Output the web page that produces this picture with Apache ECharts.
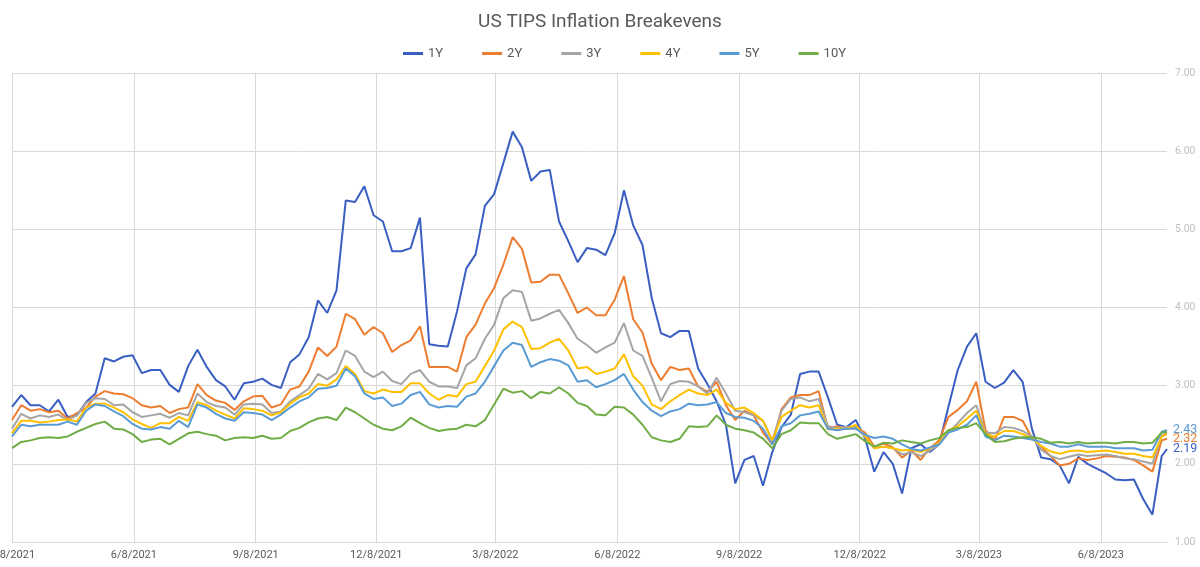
<!DOCTYPE html>
<html><head><meta charset="utf-8">
<script src="https://cdn.jsdelivr.net/npm/echarts@6/dist/echarts.min.js"></script>
<style>html,body{margin:0;padding:0;background:#fff}#c{width:1200px;height:567px}</style>
</head><body><div id="c"></div>
<script>
// weekly samples from 3/8/2021 (every 7 days to 7/24/2023) plus final point 7/28/2023
const s1Y = [
2.73,2.88,2.75,2.75,2.67,2.82,2.60,2.62,2.79,2.90,3.35,3.31,3.37,3.39,3.16,3.20,3.20,3.01,2.92,3.25,3.46,3.24,3.07,2.99,2.82,3.03,3.05,3.09,3.01,2.97,3.30,3.40,
3.62,4.09,3.93,4.22,5.37,5.35,5.55,5.18,5.10,4.72,4.72,4.76,5.15,3.53,3.51,3.50,3.95,4.50,4.68,5.30,5.45,5.85,6.25,6.05,5.62,5.74,
5.76,5.10,4.85,4.58,4.76,4.74,4.67,4.95,5.50,5.05,4.80,4.12,3.67,3.62,3.70,3.70,3.22,3.02,2.80,2.50,1.75,2.05,2.10,1.72,2.15,2.47,
2.63,3.15,3.18,3.18,2.85,2.50,2.47,2.56,2.33,1.90,2.15,2.00,1.62,2.20,2.25,2.15,2.25,2.73,3.20,3.50,3.67,3.05,2.97,3.04,3.20,3.05,2.45,2.08,2.06,1.98,1.75,2.09,2.00,1.94,1.88,1.80,1.79,1.80,1.55,1.35,2.10,
2.19];
const s2Y = [
2.56,2.75,2.68,2.70,2.66,2.68,2.58,2.65,2.72,2.86,2.93,2.90,2.89,2.84,2.75,2.72,2.74,2.65,2.70,2.72,3.02,2.88,2.81,2.78,2.69,2.80,2.86,2.87,2.72,2.76,2.95,2.99,
3.18,3.49,3.38,3.50,3.92,3.85,3.65,3.75,3.67,3.43,3.52,3.58,3.76,3.24,3.24,3.24,3.18,3.62,3.78,4.05,4.25,4.55,4.90,4.75,4.32,4.33,
4.42,4.42,4.18,3.93,4.00,3.90,3.90,4.10,4.40,3.85,3.68,3.28,3.07,3.24,3.20,3.22,2.99,2.92,3.05,2.75,2.56,2.68,2.62,2.40,2.25,2.70,
2.85,2.88,2.88,2.93,2.45,2.48,2.45,2.47,2.40,2.22,2.26,2.21,2.08,2.17,2.05,2.20,2.30,2.60,2.69,2.80,3.05,2.43,2.30,2.60,2.60,2.55,2.33,2.22,2.10,1.98,2.00,2.07,2.05,2.07,2.10,2.09,2.08,2.05,1.98,1.90,2.30,
2.32];
const s3Y = [
2.45,2.64,2.58,2.62,2.60,2.63,2.56,2.62,2.78,2.84,2.83,2.75,2.76,2.66,2.60,2.62,2.64,2.59,2.65,2.62,2.90,2.79,2.74,2.72,2.63,2.76,2.77,2.76,2.65,2.67,2.80,2.88,
2.96,3.15,3.08,3.16,3.45,3.38,3.18,3.11,3.18,3.06,3.02,3.15,3.20,3.05,2.99,2.99,2.97,3.26,3.35,3.60,3.78,4.12,4.22,4.20,3.83,3.86,
3.92,3.97,3.80,3.60,3.52,3.42,3.49,3.55,3.80,3.45,3.38,3.10,2.80,3.02,3.06,3.05,2.99,2.90,3.10,2.90,2.68,2.66,2.62,2.55,2.30,2.68,
2.83,2.85,2.80,2.83,2.48,2.46,2.47,2.47,2.35,2.20,2.22,2.20,2.12,2.15,2.10,2.17,2.25,2.40,2.52,2.65,2.75,2.40,2.39,2.47,2.46,2.42,2.35,2.18,2.10,2.06,2.09,2.12,2.10,2.11,2.12,2.10,2.07,2.06,2.03,2.00,2.36,
2.40];
const s4Y = [
2.39,2.55,2.55,2.53,2.54,2.56,2.57,2.54,2.72,2.77,2.77,2.72,2.66,2.57,2.51,2.46,2.52,2.52,2.60,2.55,2.79,2.75,2.68,2.63,2.58,2.71,2.70,2.68,2.62,2.66,2.77,2.85,
2.90,3.02,3.00,3.08,3.25,3.15,2.93,2.90,2.95,2.92,2.92,3.03,3.03,2.90,2.82,2.88,2.86,3.02,3.05,3.25,3.45,3.72,3.82,3.75,3.47,3.48,
3.55,3.60,3.45,3.22,3.24,3.15,3.18,3.22,3.40,3.12,3.00,2.76,2.70,2.80,2.88,2.95,2.90,2.88,2.95,2.78,2.70,2.72,2.65,2.55,2.30,2.60,
2.68,2.75,2.72,2.75,2.44,2.45,2.45,2.50,2.35,2.20,2.22,2.20,2.17,2.18,2.15,2.20,2.27,2.43,2.48,2.58,2.68,2.38,2.35,2.42,2.42,2.38,2.33,2.23,2.16,2.13,2.16,2.17,2.15,2.16,2.17,2.15,2.13,2.13,2.10,2.08,2.35,
2.38];
const s5Y = [
2.35,2.50,2.48,2.50,2.50,2.50,2.54,2.50,2.68,2.76,2.74,2.67,2.61,2.51,2.45,2.44,2.47,2.45,2.55,2.47,2.76,2.72,2.64,2.58,2.55,2.66,2.65,2.63,2.56,2.63,2.72,2.80,
2.85,2.96,2.97,3.00,3.22,3.12,2.90,2.83,2.85,2.74,2.77,2.88,2.92,2.76,2.72,2.74,2.73,2.86,2.90,3.05,3.25,3.45,3.55,3.52,3.24,3.30,
3.34,3.32,3.26,3.05,3.07,2.98,3.02,3.07,3.15,2.95,2.79,2.68,2.61,2.67,2.70,2.77,2.75,2.76,2.79,2.65,2.60,2.59,2.55,2.45,2.25,2.48,
2.52,2.62,2.64,2.67,2.45,2.43,2.45,2.45,2.37,2.33,2.35,2.32,2.25,2.19,2.17,2.21,2.25,2.40,2.44,2.50,2.62,2.35,2.30,2.36,2.35,2.33,2.31,2.28,2.26,2.22,2.22,2.25,2.22,2.22,2.22,2.20,2.20,2.20,2.17,2.18,2.41,
2.43];
const s10Y = [
2.20,2.28,2.30,2.33,2.34,2.33,2.35,2.41,2.46,2.51,2.54,2.45,2.44,2.38,2.28,2.31,2.32,2.25,2.32,2.39,2.41,2.38,2.36,2.30,2.33,2.34,2.33,2.36,2.32,2.33,2.42,2.46,
2.53,2.58,2.60,2.56,2.72,2.66,2.58,2.50,2.45,2.43,2.48,2.59,2.52,2.46,2.42,2.44,2.45,2.50,2.48,2.56,2.76,2.96,2.91,2.93,2.84,2.92,
2.90,2.98,2.90,2.78,2.74,2.63,2.62,2.73,2.72,2.63,2.50,2.34,2.30,2.28,2.32,2.48,2.47,2.48,2.62,2.50,2.45,2.43,2.40,2.32,2.20,2.38,
2.43,2.53,2.52,2.52,2.38,2.32,2.35,2.38,2.29,2.22,2.27,2.26,2.30,2.28,2.26,2.30,2.33,2.43,2.46,2.47,2.52,2.38,2.28,2.29,2.32,2.34,2.34,2.32,2.27,2.28,2.26,2.28,2.26,2.27,2.27,2.26,2.28,2.28,2.26,2.27,2.40,
2.41];

const seriesNames = ['1Y','2Y','3Y','4Y','5Y','10Y'];
const seriesValues = [s1Y, s2Y, s3Y, s4Y, s5Y, s10Y];
const seriesColors = ['#3a5fc2','#ed7d31','#a5a5a5','#ffc000','#5b9bd5','#70ad47'];
const endLabelSeries = ['1Y','2Y','5Y'];
const tickMonths = [3,6,9,12];
const tickDay = 8;

// daily category axis 3/8/2021 .. 7/28/2023
const categories = [];
const d0 = new Date(Date.UTC(2021,2,8)), dEnd = Date.UTC(2023,6,28);
for (let d = new Date(d0); d.getTime() <= dEnd; d.setUTCDate(d.getUTCDate()+1)) {
  categories.push((d.getUTCMonth()+1) + '/' + d.getUTCDate() + '/' + d.getUTCFullYear());
}
const sampleIdx = [];
for (let k = 0; k < 125; k++) sampleIdx.push(k*7);
sampleIdx.push(categories.length - 1);

const isTick = (i, v) => {
  const p = v.split('/');
  return +p[1] === tickDay && tickMonths.indexOf(+p[0]) >= 0;
};

const series = seriesNames.map((n, si) => ({
  name: n,
  type: 'line',
  showSymbol: false,
  symbol: 'none',
  lineStyle: { width: 2, color: seriesColors[si] },
  itemStyle: { color: seriesColors[si] },
  data: seriesValues[si].map((v, i) => [sampleIdx[i], v]),
  endLabel: endLabelSeries.indexOf(n) >= 0 ? {
    show: true, distance: 6,
    formatter: p => p.value[1].toFixed(2),
    color: seriesColors[si], fontSize: 12.5, fontFamily: 'Roboto'
  } : { show: false }
}));

const chart = echarts.init(document.getElementById('c'), null, { renderer: 'canvas' });
chart.setOption({
  animation: false,
  backgroundColor: '#fff',
  textStyle: { fontFamily: 'Roboto' },
  title: {
    text: 'US TIPS Inflation Breakevens',
    left: 'center', top: 8,
    textStyle: { fontSize: 19, fontWeight: 'normal', color: '#595959', fontFamily: 'Roboto' }
  },
  legend: {
    top: 42, left: 398, itemWidth: 20, itemHeight: 3, itemGap: 39, icon: 'rect',
    textStyle: { fontSize: 13, color: '#595959' },
    data: seriesNames
  },
  grid: { left: 12, right: 33, top: 73, bottom: 25, outerBoundsMode: 'none' },
  xAxis: {
    type: 'category', data: categories, boundaryGap: false,
    axisLine: { show: true, lineStyle: { color: '#d9d9d9' } },
    axisTick: { show: false },
    axisLabel: { interval: isTick, color: '#595959', fontSize: 11, margin: 8 },
    splitLine: { show: true, interval: isTick, lineStyle: { color: '#d9d9d9', width: 1 } }
  },
  yAxis: {
    type: 'value', position: 'right', min: 1, max: 7, interval: 1,
    axisLine: { show: false }, axisTick: { show: false },
    axisLabel: { formatter: v => v.toFixed(2), color: '#bfbfbf', fontSize: 10.5, margin: 8 },
    splitLine: { lineStyle: { color: '#d9d9d9', width: 1 } }
  },
  series: series
});
</script></body></html>
